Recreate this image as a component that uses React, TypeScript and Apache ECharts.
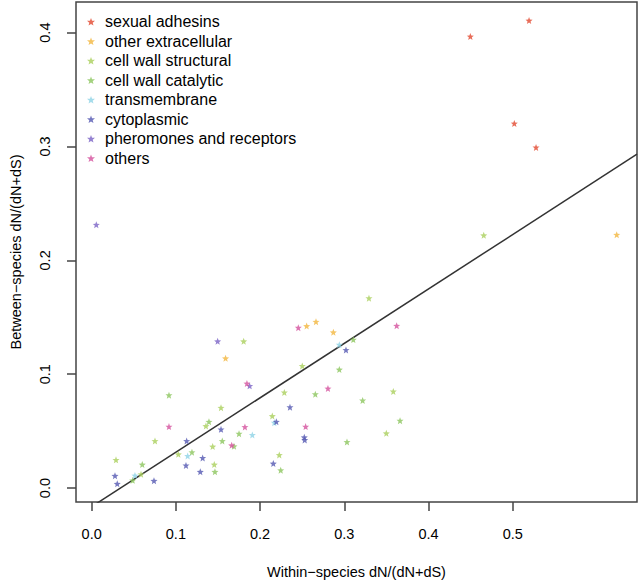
import React, { useEffect, useRef } from "react";
import * as echarts from "echarts";

const categories = [
  "sexual adhesins",
  "other extracellular",
  "cell wall structural",
  "cell wall catalytic",
  "transmembrane",
  "cytoplasmic",
  "pheromones and receptors",
  "others",
];

const colors = ["#E2492F", "#F3B63F", "#AACF5C", "#8CC65E", "#8ED3E6", "#5457B2", "#7B63C6", "#D4519D"];

const sexualAdhesins = [[0.4497, 0.3966], [0.5194, 0.4106], [0.5019, 0.3202], [0.5277, 0.2992]];
const otherExtracellular = [[0.159, 0.114], [0.2553, 0.1423], [0.2664, 0.1461], [0.287, 0.1368], [0.6235, 0.2225]];
const cellWallStructural = [
  [0.1805, 0.1289], [0.1536, 0.0706], [0.1357, 0.0545], [0.0752, 0.0414], [0.1437, 0.0365],
  [0.1029, 0.0297], [0.0289, 0.0248], [0.1456, 0.0207], [0.0586, 0.0122], [0.3293, 0.1668],
  [0.2501, 0.1073], [0.2288, 0.084], [0.3582, 0.0849], [0.2145, 0.0633], [0.3499, 0.0481],
  [0.2228, 0.0291], [0.4656, 0.222],
];
const cellWallCatalytic = [
  [0.0918, 0.0816], [0.1393, 0.0583], [0.175, 0.0478], [0.1551, 0.0414], [0.169, 0.0367],
  [0.1191, 0.0315], [0.0601, 0.0207], [0.1464, 0.0143], [0.0487, 0.0068], [0.3107, 0.1304],
  [0.2941, 0.1041], [0.2656, 0.0825], [0.3218, 0.077], [0.3662, 0.0592], [0.3032, 0.0405],
  [0.2245, 0.0157],
];
const transmembrane = [[0.1908, 0.0467], [0.114, 0.0283], [0.0514, 0.0111], [0.2941, 0.126], [0.2169, 0.0575]];
const cytoplasmic = [
  [0.1128, 0.0414], [0.1318, 0.0265], [0.112, 0.0199], [0.129, 0.0143], [0.0277, 0.0108],
  [0.074, 0.0064], [0.0304, 0.0038], [0.302, 0.1213], [0.2355, 0.0711], [0.2193, 0.0583],
  [0.2525, 0.0446], [0.253, 0.0423], [0.1536, 0.0516], [0.2157, 0.0216],
];
const pheromones = [[0.0055, 0.2313], [0.1496, 0.1289], [0.1876, 0.0898]];
const others = [
  [0.1844, 0.0919], [0.0918, 0.054], [0.182, 0.0537], [0.1663, 0.0376], [0.2454, 0.1409],
  [0.3622, 0.1426], [0.2806, 0.0875], [0.2541, 0.054],
];

const seriesData = [
  sexualAdhesins, otherExtracellular, cellWallStructural, cellWallCatalytic,
  transmembrane, cytoplasmic, pheromones, others,
];

const xTicks = [0, 0.1, 0.2, 0.3, 0.4, 0.5];
const yTicks = [0, 0.1, 0.2, 0.3, 0.4];
const X_MIN = -0.0186, X_MAX = 0.6476;
const Y_MIN = -0.0122, Y_MAX = 0.4269;
const FIT_INTERCEPT = -0.0163;
const FIT_SLOPE = 0.478;

const STAR = "path://M12 1 L14.9 8.6 L23 9 L16.7 14.1 L18.8 22 L12 17.6 L5.2 22 L7.3 14.1 L1 9 L9.1 8.6 Z";
const FONT = "Liberation Sans, Arial, Helvetica, sans-serif";

export default function App() {
  const ref = useRef<HTMLDivElement>(null);
  useEffect(() => {
    const chart = echarts.init(ref.current!, null, { renderer: "svg" });
    const scatter = categories.map((name, i) => ({
      name,
      type: "scatter",
      data: seriesData[i],
      symbol: STAR,
      symbolSize: 7,
      itemStyle: { color: colors[i] },
      z: 3,
    }));
    chart.setOption({
      animation: false,
      textStyle: { fontFamily: FONT },
      grid: { left: 76, right: 3, top: 2, bottom: 80, show: true, borderColor: "#444", borderWidth: 1.5, backgroundColor: "#fff" },
      legend: {
        data: categories,
        orient: "vertical",
        left: 87,
        top: 12,
        padding: 0,
        itemGap: 0,
        itemWidth: 8,
        itemHeight: 8,
        textStyle: { fontFamily: FONT, fontSize: 16, color: "#000", lineHeight: 19.5, padding: [0, 0, 0, 5] },
      },
      xAxis: {
        type: "value",
        min: X_MIN,
        max: X_MAX,
        name: "Within\u2212species dN/(dN+dS)",
        nameLocation: "middle",
        nameGap: 62,
        nameTextStyle: { fontFamily: FONT, fontSize: 14.5, color: "#000" },
        axisLine: { show: false, onZero: false },
        splitLine: { show: false },
        axisTick: { show: true, length: 9, customValues: xTicks, lineStyle: { color: "#444", width: 1.5 } },
        axisLabel: {
          customValues: xTicks,
          margin: 24,
          fontFamily: FONT,
          fontSize: 14.5,
          color: "#000",
          formatter: (v: number) => v.toFixed(1),
        },
      },
      yAxis: {
        type: "value",
        min: Y_MIN,
        max: Y_MAX,
        name: "Between\u2212species dN/(dN+dS)",
        nameLocation: "middle",
        nameGap: 53,
        nameTextStyle: { fontFamily: FONT, fontSize: 14.5, color: "#000" },
        axisLine: { show: false, onZero: false },
        splitLine: { show: false },
        axisTick: { show: true, length: 9, customValues: yTicks, lineStyle: { color: "#444", width: 1.5 } },
        axisLabel: {
          customValues: yTicks,
          rotate: 90,
          margin: 24,
          fontFamily: FONT,
          fontSize: 14.5,
          color: "#000",
          formatter: (v: number) => v.toFixed(1),
        },
      },
      series: [
        ...scatter,
        {
          name: "fit",
          type: "line",
          data: [
            [X_MIN, FIT_INTERCEPT + FIT_SLOPE * X_MIN],
            [X_MAX, FIT_INTERCEPT + FIT_SLOPE * X_MAX],
          ],
          showSymbol: false,
          symbol: "none",
          clip: true,
          lineStyle: { color: "#333", width: 1.5 },
          z: 2,
          silent: true,
        },
      ],
    });
    return () => chart.dispose();
  }, []);
  return <div ref={ref} style={{ width: 640, height: 584, position: "absolute", left: 0, top: 0 }} />;
}
